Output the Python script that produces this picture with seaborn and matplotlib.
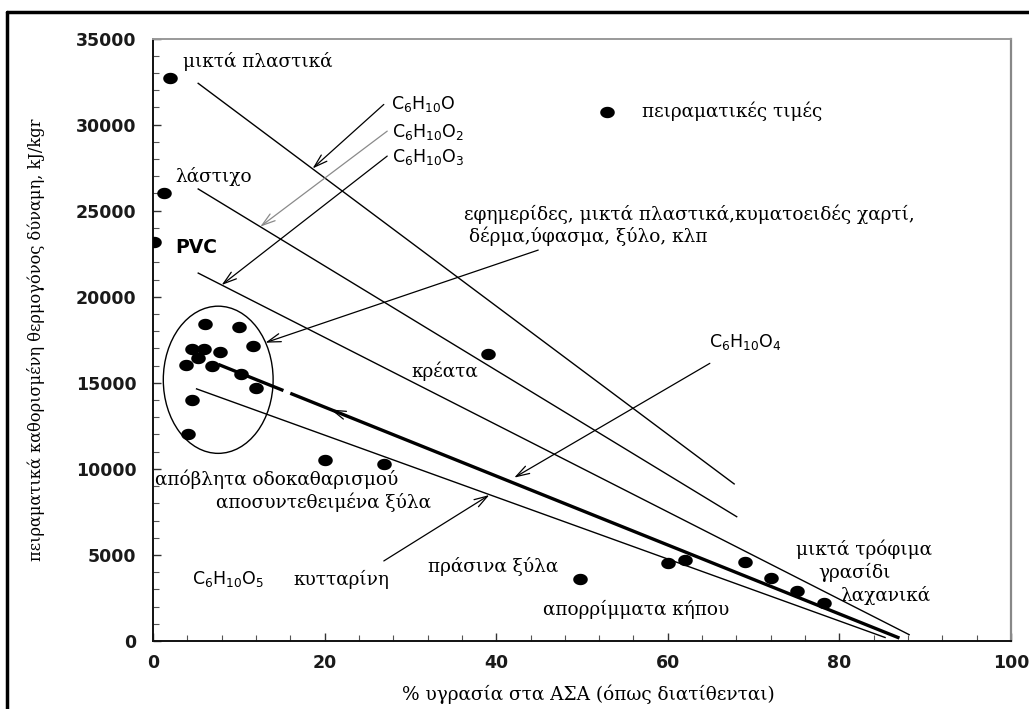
import numpy as np
import pandas as pd
import matplotlib
matplotlib.use("Agg")
import matplotlib.pyplot as plt
from matplotlib.patches import Ellipse
from matplotlib.lines import Line2D
import seaborn as sns

# ---------------- data ----------------
moisture = [2.0, 1.3, 0.1,
            6.1, 10.0, 11.7, 4.6, 5.9, 7.8, 5.3, 3.9, 6.9, 10.2, 12.0, 4.5, 4.1,
            20.1, 26.9, 39.0, 49.8, 60.0, 62.0, 69.0, 72.0, 75.1, 78.2]
energy = [32700, 26000, 23200,
          18430, 18240, 17130, 16980, 16940, 16780, 16460, 16010, 15970, 15490, 14670, 14000, 12000,
          10510, 10260, 16700, 3620, 4550, 4700, 4590, 3660, 2900, 2190]

# theoretical lines (start/end moisture %, start/end energy kJ/kg)
line_names = ["C6H10O", "C6H10O2", "C6H10O3", "C6H10O4a", "C6H10O4b", "C6H10O5"]
line_x0 = [5.2, 5.2, 5.2, 7.6, 16.0, 5.0]
line_x1 = [67.8, 68.1, 88.2, 15.2, 87.0, 85.4]
line_y0 = [32420, 26280, 21390, 16070, 14390, 14660]
line_y1 = [9100, 7200, 350, 14550, 170, 190]
line_bold = [False, False, False, True, True, False]

x_ticks = [0, 20, 40, 60, 80, 100]
y_ticks = [0, 5000, 10000, 15000, 20000, 25000, 30000, 35000]

legend_label = "πειραματικές τιμές"
x_label = "% υγρασία στα ΑΣΑ (όπως διατίθενται)"
y_label = "πειραματικά καθορισμένη θερμογόνος δύναμη, kJ/kgr"

# ---------------- figure ----------------
sns.set_theme(style="white")
plt.rcParams["font.family"] = ["DejaVu Sans"]
plt.rcParams["mathtext.fontset"] = "dejavusans"
plt.rcParams["text.color"] = "black"

fig = plt.figure(figsize=(10.29, 7.09), dpi=100)
ax = fig.add_axes([153/1029, 1-641/709, (1011-153)/1029, (641-38.5)/709])

SERIF = ["DejaVu Serif"]
SANS = ["DejaVu Sans"]
GS = 13.3  # Greek annotation font size
FS = 12.5  # formula font size

# theoretical lines
for x0, x1, y0, y1, b in zip(line_x0, line_x1, line_y0, line_y1, line_bold):
    ax.plot([x0, x1], [y0, y1], color="black", lw=2.4 if b else 1.0,
            solid_capstyle="butt", zorder=2)

# data points with elliptic marker
t = np.linspace(0, 2*np.pi, 40)
ell_marker = np.column_stack([1.15*np.cos(t), 0.9*np.sin(t)])
df = pd.DataFrame({"x": moisture, "y": energy})
sns.scatterplot(data=df, x="x", y="y", ax=ax, marker=ell_marker, s=110,
                color="black", edgecolor="black", linewidth=0, zorder=3,
                label=legend_label)

# ellipse around cluster
ax.add_patch(Ellipse((7.6, 15175), 12.8, 8550, fill=False, lw=1.0,
                     edgecolor="black", zorder=2))

# axes limits, ticks
ax.set_xlim(0, 100)
ax.set_ylim(0, 35000)
ax.set_xticks(x_ticks)
ax.set_yticks(y_ticks)
ax.set_xticks(np.arange(0, 101, 4), minor=True)
ax.set_yticks(np.arange(0, 35001, 1000), minor=True)
ax.tick_params(axis="both", which="major", direction="in", length=6, width=1,
               color="#333333", labelsize=12.5, labelcolor="#1a1a1a")
ax.tick_params(axis="both", which="minor", direction="in", length=4, width=0.8,
               color="#555555")
ax.tick_params(axis="x", which="major", pad=9)
ax.tick_params(axis="y", which="major", pad=12)
ax.tick_params(left=True, bottom=True, which="both")
for lab in ax.get_xticklabels() + ax.get_yticklabels():
    lab.set_fontweight("bold")
    lab.set_family(SANS)

for side in ["left", "bottom"]:
    ax.spines[side].set_color("#111111")
    ax.spines[side].set_linewidth(1.4)
ax.spines["top"].set_color("#999999")
ax.spines["top"].set_linewidth(1.4)
ax.spines["right"].set_color("#888888")
ax.spines["right"].set_linewidth(1.6)

ax.set_xlabel(x_label, family=SERIF, fontsize=GS, labelpad=7, color="black")
ax.xaxis.set_label_coords(0.508, -0.072)
ax.set_ylabel(y_label, family=SERIF, fontsize=11.7, labelpad=22, color="black")

# legend
leg = ax.legend(loc="center left", bbox_to_anchor=(0.5186, 0.880), frameon=False,
                borderpad=0, borderaxespad=0, handlelength=1.0, handletextpad=1.4,
                prop={"family": SERIF[0], "size": GS})
for txt in leg.get_texts():
    txt.set_color("black")

# annotation texts
def tx(x, y, s, fam=SERIF, size=GS, **kw):
    ax.text(x, y, s, family=fam, fontsize=size, ha="left", va="center",
            color="black", zorder=4, **kw)

tx(3.5, 33680, "μικτά πλαστικά")
tx(2.6, 27000, "λάστιχο")
tx(2.6, 22850, "PVC", fam=SANS, size=13.5, fontweight="bold")
tx(27.7, 31170, r"C$_6$H$_{10}$O", fam=SANS, size=FS)
tx(27.9, 29560, r"C$_6$H$_{10}$O$_2$", fam=SANS, size=FS)
tx(27.9, 28130, r"C$_6$H$_{10}$O$_3$", fam=SANS, size=FS)
tx(36.3, 24770, "εφημερίδες, μικτά πλαστικά,κυματοειδές χαρτί,")
tx(36.8, 23490, "δέρμα,ύφασμα, ξύλο, κλπ")
tx(64.8, 17350, r"C$_6$H$_{10}$O$_4$", fam=SANS, size=FS)
tx(30.1, 15680, "κρέατα")
tx(0.2, 9390, "απόβλητα οδοκαθαρισμού")
tx(7.4, 8040, "αποσυντεθειμένα ξύλα")
tx(4.5, 3580, r"C$_6$H$_{10}$O$_5$", fam=SANS, size=FS)
tx(16.4, 3580, "κυτταρίνη")
tx(32.0, 4355, "πράσινα ξύλα")
tx(45.5, 1840, "απορρίμματα κήπου")
tx(74.9, 5330, "μικτά τρόφιμα")
tx(77.6, 4000, "γρασίδι")
tx(80.1, 2650, "λαχανικά")

# arrows
def arrow(x0, y0, x1, y1, color="black"):
    ax.annotate("", xy=(x1, y1), xytext=(x0, y0),
                arrowprops=dict(arrowstyle="->,head_length=0.8,head_width=0.25",
                                color=color, lw=0.9, shrinkA=0, shrinkB=0),
                zorder=4)

arrow(26.9, 31170, 18.6, 27450)
arrow(27.3, 29620, 12.5, 24070, color="#8a8a8a")
arrow(27.3, 28170, 8.0, 20680)
arrow(44.9, 22710, 13.1, 17330)
arrow(64.9, 16130, 42.1, 9490)
arrow(26.9, 4650, 39.2, 8480)
arrow(21.6, 13270, 20.7, 13450)

# outer frame (left and top edges)
fig.add_artist(Line2D([7/1029, 7/1029], [0, 1-12/709], color="black", lw=2.5,
                      transform=fig.transFigure))
fig.add_artist(Line2D([7/1029, 1.0], [1-12/709, 1-12/709], color="black", lw=2.5,
                      transform=fig.transFigure))

fig.savefig("out.png", dpi=100)
